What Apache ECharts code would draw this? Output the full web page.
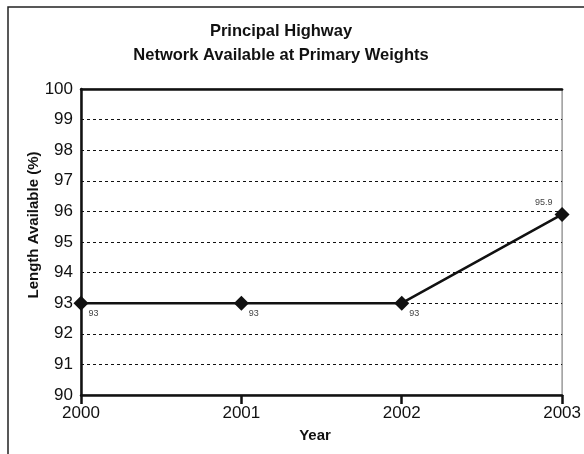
<!DOCTYPE html>
<html>
<head>
<meta charset="utf-8">
<script src="https://cdn.jsdelivr.net/npm/echarts@6/dist/echarts.min.js"></script>
<style>
  html, body { margin: 0; padding: 0; background: #fff; }
  #chart { width: 584px; height: 454px; }
</style>
</head>
<body>
<div id="chart"></div>
<script>
// Share of the principal highway network open at primary weights
const years = ['2000', '2001', '2002', '2003'];
const lengthAvailable = [93, 93, 93, 95.9];
const yTicks = [90, 91, 92, 93, 94, 95, 96, 97, 98, 99, 100];

const FONT = '"Liberation Sans", Arial, Helvetica, sans-serif';
const lastIndex = lengthAvailable.length - 1;

// Value labels: below-right of each point, the last one above-left
const seriesData = lengthAvailable.map((v, i) => ({
  value: v,
  label: i === lastIndex
    ? { position: [-2, -4], align: 'right', verticalAlign: 'middle' }
    : { position: [15, 13], align: 'left', verticalAlign: 'top' }
}));

const chart = echarts.init(document.getElementById('chart'));

chart.setOption({
  animation: false,
  backgroundColor: '#fff',
  textStyle: { fontFamily: FONT },
  grid: {
    left: 81, right: 21, top: 89, bottom: 59,
    show: true, borderColor: '#666', borderWidth: 1,
    containLabel: false
  },
  graphic: [
    {
      type: 'rect', silent: true,
      shape: { x: 8, y: 7, width: 640, height: 520 },
      style: { fill: 'none', stroke: '#222', lineWidth: 1.5 }
    },
    {
      type: 'text', silent: true,
      x: 281, y: 31,
      style: {
        text: 'Principal Highway', font: 'bold 16.5px ' + FONT,
        fill: '#111', align: 'center', verticalAlign: 'middle'
      }
    },
    {
      type: 'text', silent: true,
      x: 281, y: 55,
      style: {
        text: 'Network Available at Primary Weights', font: 'bold 16.5px ' + FONT,
        fill: '#111', align: 'center', verticalAlign: 'middle'
      }
    },
    {
      type: 'text', silent: true,
      x: 34, y: 225, rotation: Math.PI / 2,
      style: {
        text: 'Length Available (%)', font: 'bold 15px ' + FONT,
        fill: '#111', align: 'center', verticalAlign: 'middle'
      }
    },
    {
      type: 'text', silent: true,
      x: 315, y: 436,
      style: {
        text: 'Year', font: 'bold 15px ' + FONT,
        fill: '#111', align: 'center', verticalAlign: 'middle'
      }
    }
  ],
  xAxis: [
    {
      type: 'category',
      data: years,
      boundaryGap: false,
      axisLine: { show: true, lineStyle: { color: '#111', width: 2.5 } },
      axisTick: { show: true, length: 9, alignWithLabel: true, lineStyle: { color: '#111', width: 2.5 } },
      axisLabel: { color: '#111', fontSize: 17, margin: 10, fontFamily: FONT },
      splitLine: { show: false }
    },
    {
      type: 'category',
      data: years,
      boundaryGap: false,
      position: 'top',
      axisLine: { show: true, lineStyle: { color: '#111', width: 2.5 } },
      axisTick: { show: false },
      axisLabel: { show: false },
      splitLine: { show: false }
    }
  ],
  yAxis: {
    type: 'value',
    min: yTicks[0],
    max: yTicks[yTicks.length - 1],
    interval: 1,
    axisLine: { show: true, lineStyle: { color: '#111', width: 2.5 } },
    axisTick: { show: false },
    axisLabel: { color: '#111', fontSize: 17, margin: 8, fontFamily: FONT },
    splitLine: { show: true, lineStyle: { color: '#111', width: 1, type: [3, 3] } }
  },
  series: [
    {
      type: 'line',
      data: seriesData,
      symbol: 'diamond',
      symbolSize: [15, 15],
      lineStyle: { color: '#111', width: 2.5 },
      itemStyle: { color: '#111' },
      label: {
        show: true,
        fontSize: 9,
        color: '#444',
        fontFamily: FONT,
        formatter: p => String(p.value)
      },
      z: 5
    }
  ]
});
</script>
</body>
</html>
